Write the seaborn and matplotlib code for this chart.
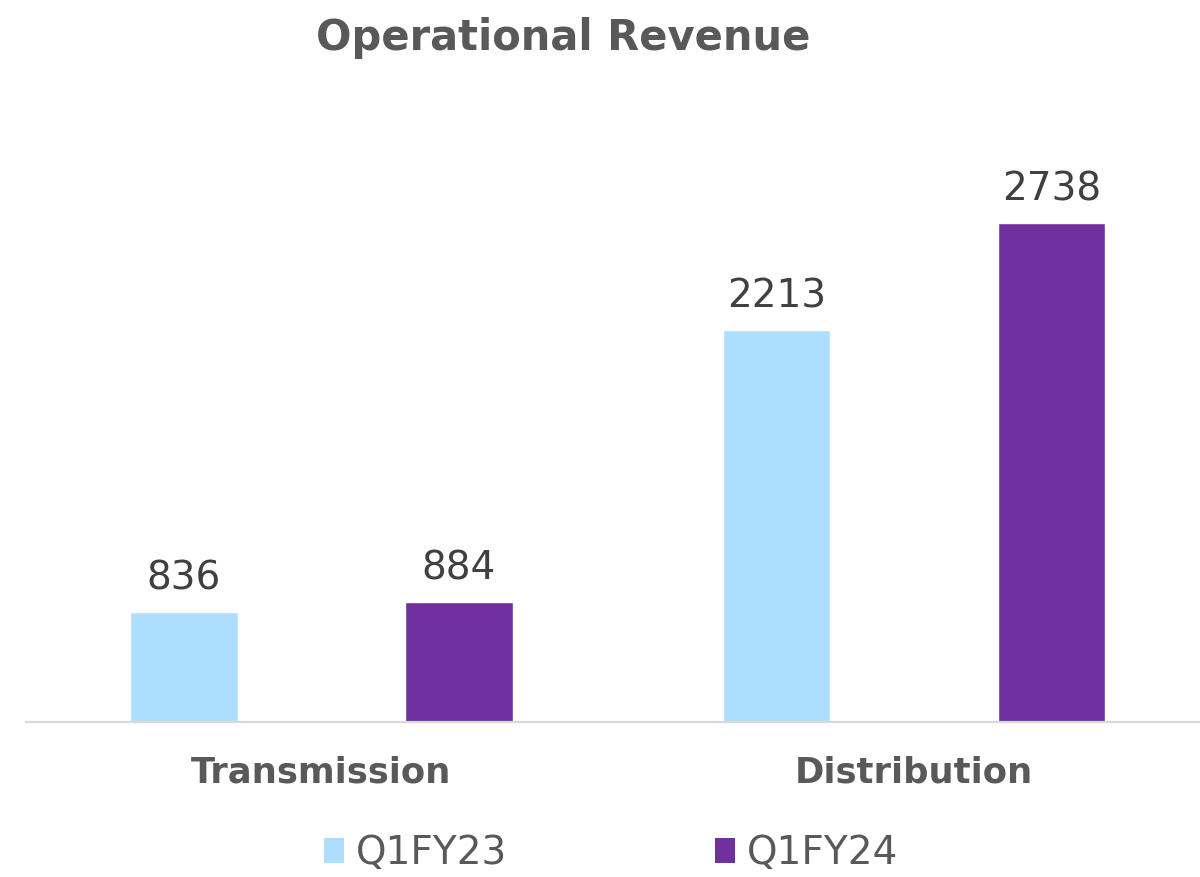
import matplotlib
matplotlib.use("Agg")
import matplotlib.pyplot as plt
import seaborn as sns
import pandas as pd
from matplotlib.patches import Patch

categories = ["Transmission", "Distribution"]
series_names = ["Q1FY23", "Q1FY24"]
q1fy23 = [836, 2213]
q1fy24 = [884, 2738]
colors = ["#ADDEFF", "#7030A0"]

df = pd.DataFrame({
    "Segment": categories * 2,
    "Period": [series_names[0]] * 2 + [series_names[1]] * 2,
    "Revenue": q1fy23 + q1fy24,
})

sns.set_theme(style="white")
plt.rcParams["font.family"] = ["DejaVu Sans"]

W, H = 1200, 877
fig = plt.figure(figsize=(12, 8.77), dpi=100)
ymin, ymax = 300, 3300
px_per_unit = 0.2048
base_y = 722
top_y = base_y - (ymax - ymin) * px_per_unit
ax = fig.add_axes([26 / W, 1 - base_y / H, (W - 26) / W, (base_y - top_y) / H])

sns.barplot(data=df, x="Segment", y="Revenue", hue="Period",
            palette=colors, width=0.928, gap=0.608, ax=ax,
            saturation=1, errorbar=None)

ax.set_xlim(-0.4987, 1.4827)
ax.set_ylim(ymin, ymax)
for c in ax.containers:
    ax.bar_label(c, fmt="%d", padding=10.5, fontsize=28, color="#404040")

for s in ["top", "left", "right"]:
    ax.spines[s].set_visible(False)
ax.spines["bottom"].set_color("#D9D9D9")
ax.spines["bottom"].set_linewidth(1.6)
ax.set_yticks([])
ax.set_xlabel("")
ax.set_ylabel("")
ax.tick_params(axis="x", length=0, pad=24)
for t in ax.get_xticklabels():
    t.set_fontsize(25.5)
    t.set_fontweight("bold")
    t.set_color("#595959")

leg = ax.get_legend()
if leg is not None:
    leg.remove()
handles = [Patch(facecolor=colors[i], edgecolor="none") for i in range(2)]
fig.legend(handles, series_names, loc="center", bbox_to_anchor=(611 / W, 1 - 853 / H),
           ncol=2, frameon=False, fontsize=28, labelcolor="#595959",
           handlelength=0.52, handleheight=0.62, handletextpad=0.3, columnspacing=5.35)

fig.text(563 / W, 1 - 38 / H, "Operational Revenue", ha="center", va="center",
         fontsize=30, fontweight="bold", color="#595959")

fig.savefig("out.png", dpi=100)
